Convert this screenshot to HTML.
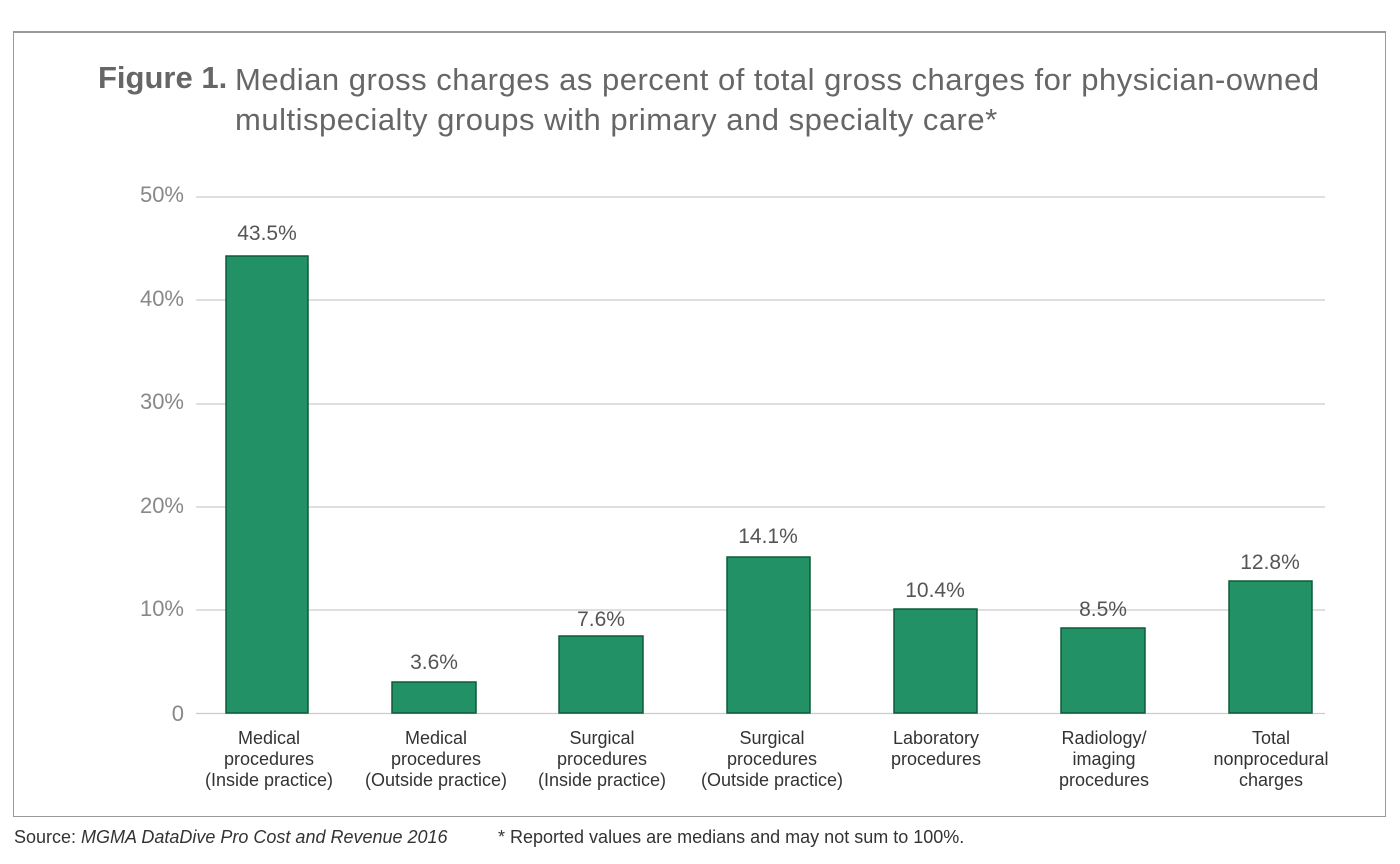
<!DOCTYPE html>
<html><head><style>
body{margin:0;width:1400px;height:864px;background:#fff;font-family:"Liberation Sans",sans-serif;position:relative;overflow:hidden}
.a{position:absolute;white-space:nowrap}
</style></head><body>
<div class="a" style="left:13px;top:31px;width:1371px;height:783px;border:1px solid #999;border-top:2px solid #999"></div>
<div class="a" style="left:98px;top:60px;font-size:31px;color:#666;font-weight:bold">Figure 1.</div>
<div class="a" style="left:235px;top:60px;font-size:31px;color:#666;line-height:40px;letter-spacing:0.5px">Median gross charges as percent of total gross charges for physician-owned<br>multispecialty groups with primary and specialty care*</div>
<svg class="a" style="left:0;top:0" width="1400" height="864">
<g stroke="#ccc" stroke-width="1.2">
<line x1="196" x2="1325" y1="197" y2="197"/><line x1="196" x2="1325" y1="300" y2="300"/>
<line x1="196" x2="1325" y1="404" y2="404"/><line x1="196" x2="1325" y1="507" y2="507"/>
<line x1="196" x2="1325" y1="610" y2="610"/><line x1="196" x2="1325" y1="713.5" y2="713.5"/>
</g>
<g font-family="Liberation Sans" font-size="22" fill="#888" text-anchor="end">
<text x="184" y="202">50%</text><text x="184" y="306">40%</text><text x="184" y="409">30%</text>
<text x="184" y="513">20%</text><text x="184" y="616">10%</text><text x="184" y="721">0</text>
</g>
<g fill="#229165" stroke="#0d5b3a" stroke-width="1.5">
<rect x="226" y="256" width="82" height="457"/>
<rect x="392" y="682" width="84" height="31"/>
<rect x="559" y="636" width="84" height="77"/>
<rect x="727" y="557" width="83" height="156"/>
<rect x="894" y="609" width="83" height="104"/>
<rect x="1061" y="628" width="84" height="85"/>
<rect x="1229" y="581" width="83" height="132"/>
</g>
<g font-family="Liberation Sans" font-size="21" fill="#555" text-anchor="middle">
<text x="267" y="240">43.5%</text><text x="434" y="669">3.6%</text><text x="601" y="626">7.6%</text>
<text x="768" y="543">14.1%</text><text x="935" y="597">10.4%</text><text x="1103" y="616">8.5%</text>
<text x="1270" y="569">12.8%</text>
</g>
<g font-family="Liberation Sans" font-size="18" fill="#333" text-anchor="middle">
<text x="269" y="744">Medical</text><text x="269" y="765">procedures</text><text x="269" y="786">(Inside practice)</text>
<text x="436" y="744">Medical</text><text x="436" y="765">procedures</text><text x="436" y="786">(Outside practice)</text>
<text x="602" y="744">Surgical</text><text x="602" y="765">procedures</text><text x="602" y="786">(Inside practice)</text>
<text x="772" y="744">Surgical</text><text x="772" y="765">procedures</text><text x="772" y="786">(Outside practice)</text>
<text x="936" y="744">Laboratory</text><text x="936" y="765">procedures</text>
<text x="1104" y="744">Radiology/</text><text x="1104" y="765">imaging</text><text x="1104" y="786">procedures</text>
<text x="1271" y="744">Total</text><text x="1271" y="765">nonprocedural</text><text x="1271" y="786">charges</text>
</g>
<g font-family="Liberation Sans" font-size="18" fill="#333">
<text x="14" y="843">Source: <tspan font-style="italic">MGMA DataDive Pro Cost and Revenue 2016</tspan></text>
<text x="498" y="843">* Reported values are medians and may not sum to 100%.</text>
</g>
</svg>
</body></html>
